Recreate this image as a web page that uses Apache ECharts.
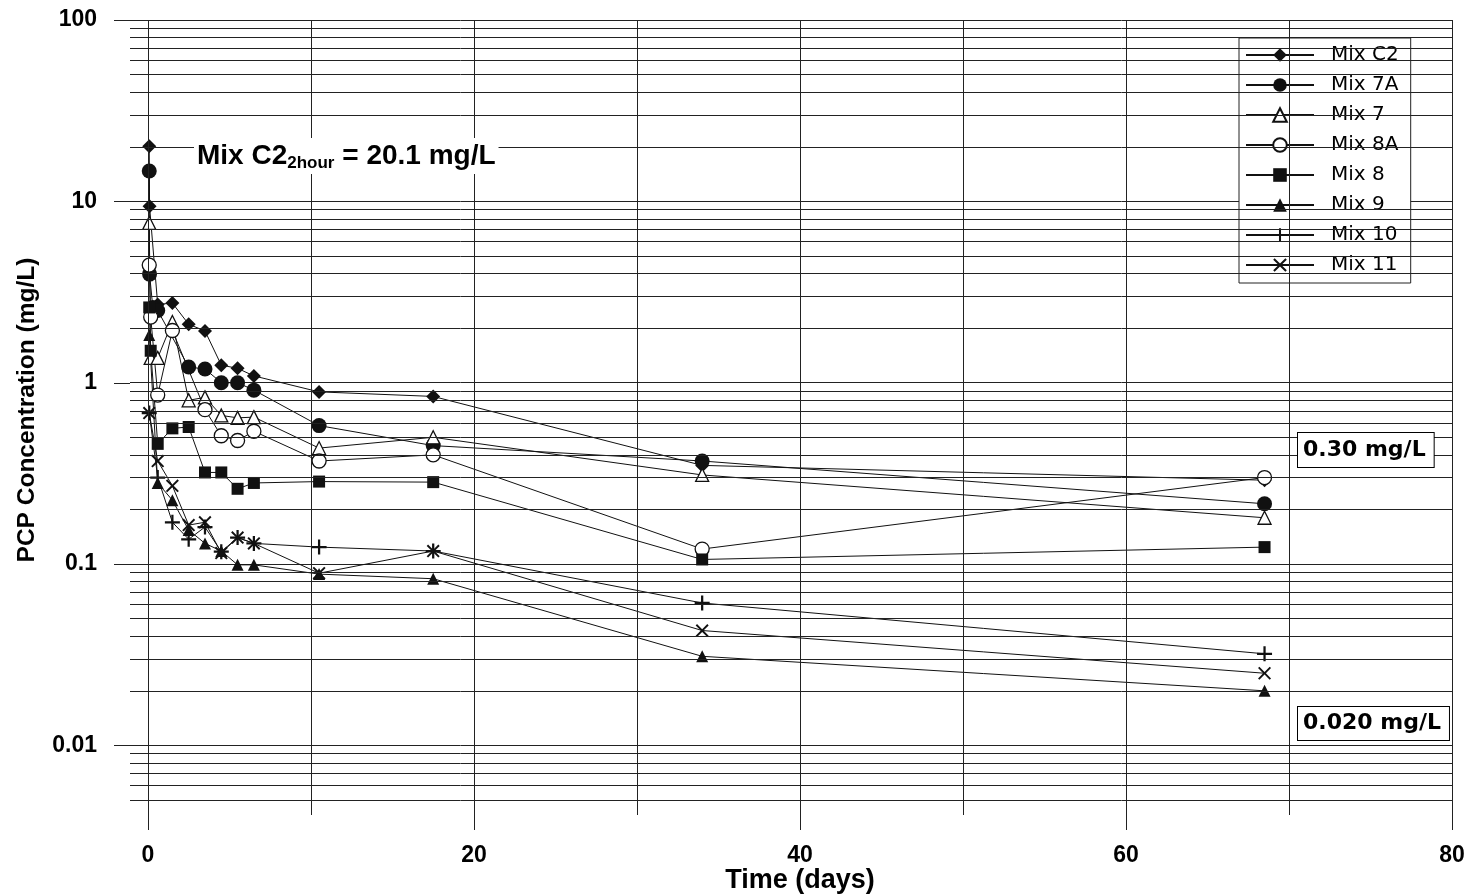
<!DOCTYPE html>
<html><head><meta charset="utf-8">
<script src="https://cdn.jsdelivr.net/npm/echarts@6/dist/echarts.min.js"></script>
<style>html,body{margin:0;padding:0;background:#fff}#c{width:1468px;height:895px}</style>
</head><body><div id="c"></div>
<script>
// ---- data ----
const seriesNames = ['Mix C2','Mix 7A','Mix 7','Mix 8A','Mix 8','Mix 9','Mix 10','Mix 11'];
const tC2  = [0.08, 0.1, 0.6, 1.5, 2.5, 3.5, 4.5, 5.5, 6.5, 10.5, 17.5, 34, 68.5];
const vC2  = [20.1, 9.4, 2.7, 2.75, 2.1, 1.93, 1.25, 1.2, 1.09, 0.89, 0.84, 0.35, 0.29];
const t7A  = [0.08, 0.1, 0.3, 0.6, 2.5, 3.5, 4.5, 5.5, 6.5, 10.5, 17.5, 34, 68.5];
const v7A  = [14.7, 3.97, 2.6, 2.5, 1.22, 1.19, 1.0, 1.0, 0.91, 0.58, 0.45, 0.37, 0.215];
const t7   = [0.08, 0.17, 0.6, 1.5, 2.5, 3.5, 4.5, 5.5, 6.5, 10.5, 17.5, 34, 68.5];
const v7   = [7.6, 1.37, 1.37, 2.16, 0.80, 0.83, 0.66, 0.64, 0.646, 0.436, 0.50, 0.31, 0.18];
const t8A  = [0.08, 0.17, 0.6, 1.5, 3.5, 4.5, 5.5, 6.5, 10.5, 17.5, 34, 68.5];
const v8A  = [4.45, 2.3, 0.855, 1.94, 0.71, 0.51, 0.48, 0.54, 0.37, 0.40, 0.121, 0.30];
const t8   = [0.08, 0.17, 0.6, 1.5, 2.5, 3.5, 4.5, 5.5, 6.5, 10.5, 17.5, 34, 68.5];
const v8   = [2.6, 1.5, 0.46, 0.56, 0.57, 0.32, 0.32, 0.26, 0.28, 0.285, 0.283, 0.106, 0.124];
const t9   = [0.08, 0.6, 1.5, 2.5, 3.5, 4.5, 5.5, 6.5, 10.5, 17.5, 34, 68.5];
const v9   = [1.83, 0.28, 0.225, 0.154, 0.13, 0.118, 0.099, 0.099, 0.088, 0.083, 0.031, 0.020];
const t10  = [0.08, 0.6, 1.5, 2.5, 3.5, 4.5, 5.5, 6.5, 10.5, 17.5, 34, 68.5];
const v10  = [0.68, 0.30, 0.17, 0.137, 0.16, 0.117, 0.14, 0.13, 0.124, 0.118, 0.061, 0.032];
const t11  = [0.08, 0.6, 1.5, 2.5, 3.5, 4.5, 5.5, 6.5, 10.5, 17.5, 34, 68.5];
const v11  = [0.68, 0.37, 0.27, 0.164, 0.17, 0.115, 0.14, 0.13, 0.089, 0.118, 0.043, 0.025];

const xMajorTicks = [0, 20, 40, 60, 80];
const xMinorTicks = [10, 30, 50, 70];
const xGridLines  = [0, 10, 20, 30, 40, 50, 60, 70, 80];
const yMajorTicks = [0.01, 0.1, 1, 10, 100];
const yMinorLines = [0.006,0.007,0.008,0.009, 0.02,0.03,0.04,0.05,0.06,0.07,0.08,0.09,
                     0.2,0.3,0.4,0.5,0.6,0.7,0.8,0.9, 2,3,4,5,6,7,8,9, 20,30,40,50,60,70,80,90];
const annoMain = 'Mix C2', annoSub = '2hour', annoRest = ' = 20.1 mg/L';
const boxLabels = ['0.30 mg/L', '0.020 mg/L'];

// ---- chart ----
const pair = (t, v) => t.map((x, i) => [x, v[i]]);
const PLUS = 'path://M0,4.25H10V5.75H0Z M4.25,0H5.75V10H4.25Z';
const CROSS = 'path://M0,1.05L1.05,0L5,3.95L8.95,0L10,1.05L6.05,5L10,8.95L8.95,10L5,6.05L1.05,10L0,8.95L3.95,5Z';
const INK = '#111';
const filled = {color: INK};
const hollow = {color: '#fff', borderColor: INK, borderWidth: 1.3};
const styles = [
  {symbol: 'diamond', size: 14, item: filled},
  {symbol: 'circle', size: 15, item: filled},
  {symbol: 'triangle', size: 13, item: hollow},
  {symbol: 'circle', size: 14, item: hollow},
  {symbol: 'rect', size: 12, item: filled},
  {symbol: 'triangle', size: 12, item: filled},
  {symbol: PLUS, size: 15, item: filled},
  {symbol: CROSS, size: 13, item: filled}
];
const dataSets = [pair(tC2,vC2), pair(t7A,v7A), pair(t7,v7), pair(t8A,v8A),
                  pair(t8,v8), pair(t9,v9), pair(t10,v10), pair(t11,v11)];

const gridLineStyle = {type: 'solid', color: '#222', width: 1};
const series = [{
  type: 'line', name: '__grid', data: [], silent: true, z: 1,
  markLine: {
    silent: true, symbol: ['none', 'none'], label: {show: false}, precision: 6,
    lineStyle: gridLineStyle, emphasis: {disabled: true}, animation: false,
    data: xGridLines.map(v => ({xAxis: v})).concat(yMinorLines.map(v => ({yAxis: v})))
  }
}];
seriesNames.forEach((n, i) => {
  series.push({
    type: 'line', name: n, data: dataSets[i],
    symbol: styles[i].symbol, symbolSize: styles[i].size,
    lineStyle: {color: INK, width: 1},
    itemStyle: styles[i].item,
    emphasis: {disabled: true}, z: 3
  });
});

const tickFont = {fontFamily: 'Liberation Sans', fontWeight: 'bold', fontSize: 23, color: '#000'};
const baseGraphic = [{
    type: 'text', left: 194, top: 138, z: 50,
    style: {
      text: '{a|' + annoMain + '}{b|' + annoSub + '}{a|' + annoRest + '}',
      rich: {
        a: {fontFamily: 'Liberation Sans', fontWeight: 'bold', fontSize: 28, fill: '#000', lineHeight: 31},
        b: {fontFamily: 'Liberation Sans', fontWeight: 'bold', fontSize: 17, fill: '#000', padding: [15, 0, 0, 0]}
      },
      backgroundColor: '#fff', padding: [2, 3, 2, 3]
    }
  }, {
    type: 'text', left: 1297, top: 432, z: 50,
    style: {text: boxLabels[0], font: 'bold 22px "DejaVu Sans"', fill: '#000', lineHeight: 24,
      backgroundColor: '#fff', borderColor: '#000', borderWidth: 1, padding: [5, 8, 5, 5]}
  }, {
    type: 'text', left: 1297, top: 706, z: 50,
    style: {text: boxLabels[1], font: 'bold 22px "DejaVu Sans"', fill: '#000', lineHeight: 24,
      backgroundColor: '#fff', borderColor: '#000', borderWidth: 1, padding: [4, 8, 5, 5]}
  }];
const option = {
  animation: false,
  backgroundColor: '#fff',
  grid: {left: 130, right: 16, top: 20, bottom: 95, containLabel: false, outerBoundsMode: 'none'},
  xAxis: [{
    type: 'value', min: -1.1, max: 80, position: 'bottom',
    axisLine: {show: false},
    axisTick: {show: true, customValues: xMajorTicks, length: 30, lineStyle: {color: '#222'}},
    axisLabel: Object.assign({customValues: xMajorTicks, margin: 44}, tickFont),
    splitLine: {show: false},
    name: 'Time (days)', nameLocation: 'middle', nameGap: 67, nameMoveOverlap: false,
    nameTextStyle: {fontFamily: 'Liberation Sans', fontWeight: 'bold', fontSize: 27, color: '#000', padding: [0, 0, 0, 18]}
  }, {
    type: 'value', min: -1.1, max: 80, position: 'bottom',
    axisLine: {show: false},
    axisTick: {show: true, customValues: xMinorTicks, length: 15, lineStyle: {color: '#222'}},
    axisLabel: {show: false}, splitLine: {show: false}
  }],
  yAxis: [{
    type: 'log', logBase: 10, min: 0.005, max: 100,
    axisLine: {show: false},
    axisTick: {show: false},
    axisLabel: Object.assign({margin: 33, showMinLabel: false,
      formatter: v => v < 0.009 ? '' : (v >= 1 ? String(Math.round(v)) : String(+v.toPrecision(1)))}, tickFont),
    splitLine: {show: true, lineStyle: gridLineStyle},
    name: 'PCP Concentration (mg/L)', nameLocation: 'middle', nameGap: 90, nameMoveOverlap: false,
    nameTextStyle: {fontFamily: 'Liberation Sans', fontWeight: 'bold', fontSize: 24.5, color: '#000'}
  }],
  legend: {
    data: seriesNames, orient: 'vertical', left: 1239, top: 38,
    itemWidth: 68, itemHeight: 17, itemGap: 10, padding: [7, 12, 8, 6],
    borderColor: '#222', borderWidth: 1, backgroundColor: '#fff', selectedMode: false,
    textStyle: {fontFamily: 'DejaVu Sans', fontSize: 20, color: '#000', lineHeight: 20, padding: [0, 0, 0, 12]}
  },
  graphic: baseGraphic,
  series: series
};
const chart = echarts.init(document.getElementById('c'), null, {renderer: 'canvas'});
chart.setOption(option);

// outward major ticks on the left of the y axis, placed through the chart's own scales
const gridLeftPx = chart.convertToPixel({xAxisIndex: 0}, -1.1);
const tickLines = yMajorTicks.map(v => {
  const y = Math.round(chart.convertToPixel({yAxisIndex: 0}, v)) + 0.5;
  return {type: 'line', z: 1, silent: true,
    shape: {x1: gridLeftPx - 16, y1: y, x2: gridLeftPx, y2: y},
    style: {stroke: '#222', lineWidth: 1}};
});
chart.setOption({graphic: baseGraphic.concat(tickLines)});
</script>
</body></html>
